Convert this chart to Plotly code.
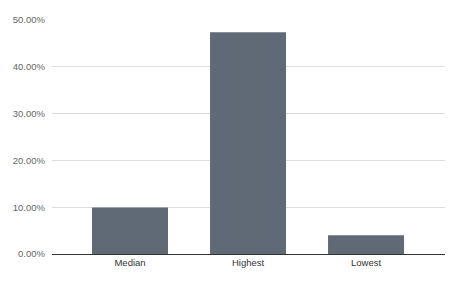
import plotly.graph_objects as go

categories = ["Median", "Highest", "Lowest"]
values = [0.0995, 0.474, 0.0402]
tick_vals = [0, 0.1, 0.2, 0.3, 0.4, 0.5]
tick_text = ["0.00%", "10.00%", "20.00%", "30.00%", "40.00%", "50.00%"]

fig = go.Figure()
fig.add_trace(go.Bar(
    x=categories, y=values, marker=dict(color="#5f6a76", line=dict(width=0)),
    width=0.644,
))
fig.update_layout(
    width=460, height=284,
    margin=dict(l=52, r=15, t=20, b=30),
    paper_bgcolor="white", plot_bgcolor="white",
    font=dict(family="Liberation Sans, Arial, sans-serif", size=9.5, color="#444444"),
    showlegend=False,
    xaxis=dict(range=[-0.661, 2.669], showgrid=False, showline=True, linecolor="#333333",
               linewidth=1, ticks="", tickfont=dict(size=9.5, color="#333333")),
    yaxis=dict(range=[0, 0.5], tickvals=tick_vals, ticktext=tick_text, showgrid=True,
               gridcolor="#dddddd", gridwidth=1, zeroline=False, ticks="",
               tickfont=dict(size=9.5, color="#666666"), ticklabelstandoff=6),
)
fig.write_html("out.html")
